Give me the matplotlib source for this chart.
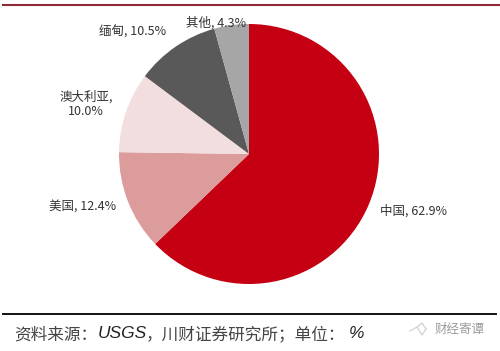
import matplotlib
matplotlib.use("Agg")
import matplotlib.pyplot as plt

plt.rcParams['font.family'] = ['Noto Sans CJK SC', 'DejaVu Sans']

categories = ['中国', '美国', '澳大利亚', '缅甸', '其他']
values = [62.9, 12.4, 10.0, 10.5, 4.3]
colors = ['#C50012', '#DC9C9C', '#F2DEDF', '#595959', '#A6A6A6']
labels = ['中国, 62.9%', '美国, 12.4%', '澳大利亚,\n10.0%', '缅甸, 10.5%', '其他, 4.3%']
label_px = [(413, 211), (83, 207), (86, 104), (133, 32), (216, 23)]

W, H = 500, 351
fig = plt.figure(figsize=(W / 100, H / 100), dpi=100, facecolor='white')

cx, cy, r = 249, 154, 130
ax = fig.add_axes([(cx - r) / W, 1 - (cy + r) / H, 2 * r / W, 2 * r / H])
ax.pie(values, colors=colors, startangle=90, counterclock=False, radius=1,
       wedgeprops={'linewidth': 0})
ax.set_xlim(-1, 1)
ax.set_ylim(-1, 1)
ax.set_aspect('equal')
ax.axis('off')

def fx(x):
    return x / W

def fy(y):
    return 1 - y / H

for lab, (x, y) in zip(labels, label_px):
    fig.text(fx(x), fy(y), lab, ha='center', va='center', fontsize=9,
             color='#333333', linespacing=1.15)

fig.add_artist(plt.Line2D([fx(3), fx(500)], [fy(5), fy(5)], color='#8E2A35', lw=1.5))
fig.add_artist(plt.Line2D([fx(3), fx(496)], [fy(314), fy(314)], color='#111111', lw=1.4))

fig.text(fx(14), fy(335), '资料来源：', ha='left', va='center', fontsize=12, color='#444444')
fig.text(fx(98), fy(334), 'USGS', ha='left', va='center', fontsize=12.5, color='#222222',
         family='Liberation Sans', style='italic')
fig.text(fx(146), fy(335), '，川财证券研究所；单位：', ha='left', va='center', fontsize=12, color='#444444')
fig.text(fx(349), fy(334), '%', ha='left', va='center', fontsize=12.5, color='#222222',
         family='Liberation Sans', style='italic')
fig.text(fx(435), fy(329), '财经寄谭', ha='left', va='center', fontsize=9, color='#9A9A9A')

fig.add_artist(plt.Line2D([fx(410), fx(417), fx(422), fx(426)], [fy(331), fy(327), fy(323), fy(329)],
                          color='#D5D5D5', lw=1))
fig.add_artist(plt.Line2D([fx(417), fx(422), fx(426)], [fy(327), fy(335), fy(329)],
                          color='#D5D5D5', lw=1))

fig.savefig('out.png', dpi=100)
